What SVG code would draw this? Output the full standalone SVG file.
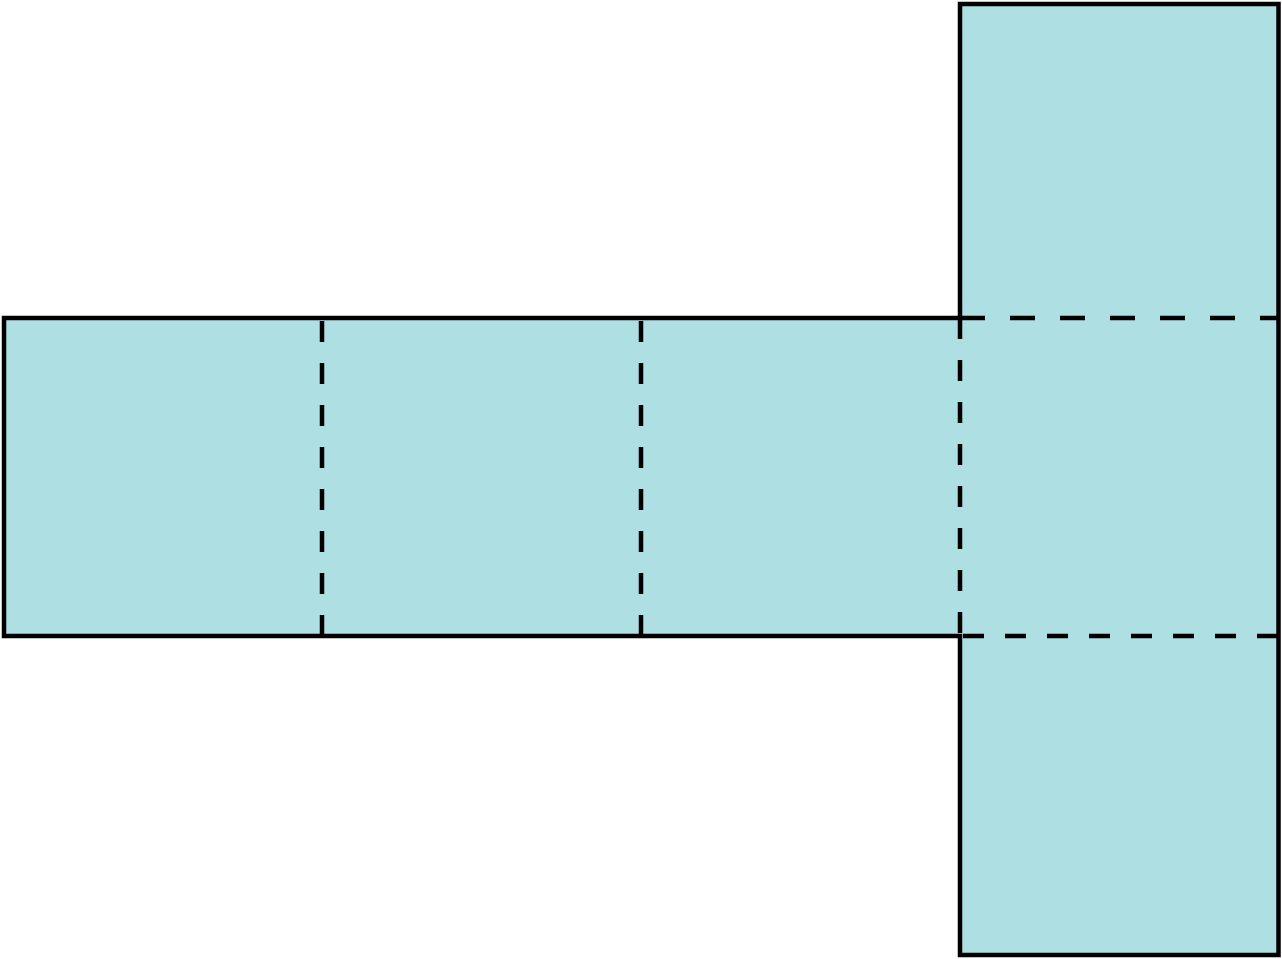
<svg xmlns="http://www.w3.org/2000/svg" width="1282" height="959" viewBox="0 0 1282 959">
<style>
.face{fill:#aedfe3;stroke:none}
.outline{fill:none;stroke:#000;stroke-width:4.5;stroke-linejoin:miter}
.fold{fill:none;stroke:#000;stroke-width:4.5;stroke-linecap:butt}
.d21{stroke-dasharray:21 21}
.d25{stroke-dasharray:25 25}
</style>
<rect width="1282" height="959" fill="#fff"/>
<g id="net">
<path class="face" d="M4,318 H960 V4 H1278.5 V955 H960 V636 H4 Z"/>
</g>
<g id="folds">
<line class="fold d21" x1="322" y1="321" x2="322" y2="636"/>
<line class="fold d21" x1="641" y1="321" x2="641" y2="636"/>
<line class="fold d21" x1="960" y1="318" x2="960" y2="636"/>
<line class="fold d25" x1="960" y1="318" x2="1278" y2="318"/>
<line class="fold d21" x1="963" y1="636" x2="1278" y2="636"/>
</g>
<g id="outline">
<path class="outline" d="M4,318 H960 V4 H1278.5 V955 H960 V636 H4 Z"/>
</g>
</svg>
